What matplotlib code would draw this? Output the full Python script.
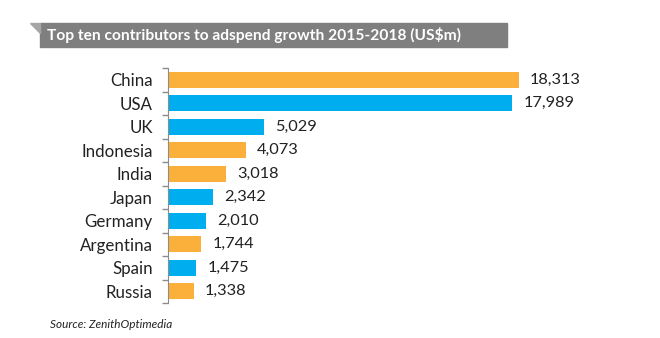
import matplotlib.pyplot as plt
from matplotlib.patches import Rectangle, Polygon

countries = ['China', 'USA', 'UK', 'Indonesia', 'India', 'Japan', 'Germany',
             'Argentina', 'Spain', 'Russia']
growth = [18313, 17989, 5029, 4073, 3018, 2342, 2010, 1744, 1475, 1338]
region = ['em', 'mature', 'mature', 'em', 'em', 'mature', 'mature', 'em',
          'mature', 'em']

colors = {'em': '#FBB03B', 'mature': '#00AEEF'}

plt.rcParams['font.family'] = ['Lato', 'DejaVu Sans']

fig = plt.figure(figsize=(6.6, 3.38), dpi=100)
ax = fig.add_axes([168 / 660, 1 - 303 / 338, 383 / 660, 235 / 338])

ypos = list(range(len(countries)))
ax.barh(ypos, growth, height=0.68, color=[colors[r] for r in region])
for y, v in zip(ypos, growth):
    ax.annotate(f'{v:,}', (v, y), xytext=(8, 0), textcoords='offset points',
                va='center', ha='left', fontsize=11.8, color='#222222')

ax.set_xlim(0, 20000)
ax.set_ylim(len(countries) - 0.5, -0.5)
ax.set_yticks(ypos)
ax.set_yticklabels(countries, fontsize=12.2, color='#222222')
ax.tick_params(axis='y', which='major', length=0, pad=11)
ax.set_yticks([i - 0.5 for i in range(len(countries) + 1)], minor=True)
ax.tick_params(axis='y', which='minor', length=4, color='#8c8c8c', width=1)
ax.set_xticks([])
for side in ['top', 'right', 'bottom']:
    ax.spines[side].set_visible(False)
ax.spines['left'].set_color('#8c8c8c')

# title banner with folded corner
fig.patches.append(Rectangle((40 / 660, 1 - 47 / 338), 467 / 660, 24 / 338,
                             transform=fig.transFigure, color='#7f7f7f',
                             zorder=0))
fig.patches.append(Polygon([(30 / 660, 1 - 23 / 338), (40 / 660, 1 - 23 / 338),
                            (40 / 660, 1 - 33 / 338)],
                           transform=fig.transFigure, color='#a6a6a6',
                           zorder=1))
fig.text(47 / 660, 1 - 35 / 338,
         'Top ten contributors to adspend growth 2015-2018 (US$m)',
         color='white', fontsize=11.2, fontweight='bold', va='center',
         ha='left')

fig.text(50 / 660, 1 - 324 / 338, 'Source: ZenithOptimedia', fontsize=8.5,
         style='italic', color='#222222', va='center', ha='left')

fig.savefig('out.png', dpi=100)
